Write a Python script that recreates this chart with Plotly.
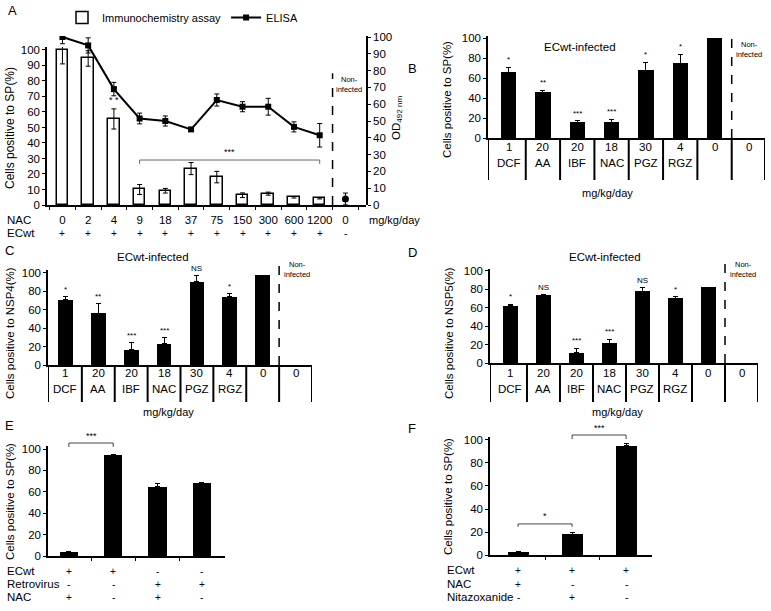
import plotly.graph_objects as go

W, H = 771, 611
FONT = "Liberation Sans, Arial, sans-serif"


def X(px):
    return px / W


def Y(py):
    return 1 - py / H


# ---------------- data ----------------
# Panel A
a_nac = ["0", "2", "4", "9", "18", "37", "75", "150", "300", "600", "1200", "0"]
a_ecwt = ["+", "+", "+", "+", "+", "+", "+", "+", "+", "+", "+", "-"]
a_ihc = [100, 94.5, 55.5, 10, 9.2, 23.5, 18, 6.3, 7.3, 5, 4.3]
a_ihc_err = [9, 5, 6.5, 3.2, 1.5, 3.9, 3.7, 1.5, 1, 0.5, 0.4]
a_elisa = [100, 95, 69, 51.5, 50, 45, 62.5, 58.5, 58.5, 46.5, 41.5]
a_elisa_err = [4, 4.5, 4, 3.2, 3, 1, 3.6, 3, 5, 3, 7]
a_nonin = [3.6]
a_nonin_err = [3.5]

# Panels B, C, D (same treatments)
bcd_dose = ["1", "20", "20", "18", "30", "4", "0", "0"]
bcd_drug = ["DCF", "AA", "IBF", "NAC", "PGZ", "RGZ", "", ""]

b_val = [66, 46, 16, 16, 68, 75, 100, None]
b_err = [5, 1.7, 1.3, 3, 7.5, 8.5, 0, 0]
b_sig = ["*", "**", "***", "***", "*", "*", "", ""]

c_val = [71, 56, 16.5, 23, 90.5, 74, 97.5, None]
c_err = [3, 10.5, 7.5, 6.7, 6.5, 3, 0, 0]
c_sig = ["*", "**", "***", "***", "NS", "*", "", ""]

d_val = [62, 73.5, 11, 21.5, 78, 70.5, 82, None]
d_err = [2, 0.5, 5, 4.5, 4, 1.3, 0, 0]
d_sig = ["*", "NS", "***", "***", "NS", "*", "", ""]

# Panel E
e_val = [3.5, 94, 64.5, 68]
e_err = [0.5, 1, 3, 1]
e_row_names = ["ECwt", "Retrovirus", "NAC"]
e_rows = [["+", "+", "-", "-"], ["-", "-", "+", "+"], ["+", "-", "+", "-"]]

# Panel F
f_val = [2.5, 18, 95]
f_err = [0.5, 2, 2]
f_row_names = ["ECwt", "NAC", "Nitazoxanide"]
f_rows = [["+", "+", "+"], ["+", "-", "-"], ["-", "+", "-"]]

fig = go.Figure()
ann = []
shapes = []


def txt(x, y, t, size=10.5, xref="paper", yref="paper", xanchor="center", yanchor="middle", angle=0, color="black"):
    ann.append(dict(x=x, y=y, text=t, xref=xref, yref=yref, xanchor=xanchor, yanchor=yanchor,
                    showarrow=False, textangle=angle, font=dict(family=FONT, size=size, color=color)))


def line(x0, y0, x1, y1, xref="paper", yref="paper", width=1, dash="solid", color="black"):
    shapes.append(dict(type="line", x0=x0, y0=y0, x1=x1, y1=y1, xref=xref, yref=yref,
                       line=dict(color=color, width=width, dash=dash)))


def yax(domain_px, rng, dtick, **kw):
    d = dict(domain=[Y(domain_px[1]), Y(domain_px[0])], range=rng, dtick=dtick, tick0=0,
             showline=True, linecolor="black", linewidth=1.5, ticks="outside", ticklen=3,
             tickwidth=1, tickcolor="black", showgrid=False, zeroline=False,
             tickfont=dict(family=FONT, size=11.5, color="black"))
    d.update(kw)
    return d


def xax(domain_px, rng, **kw):
    d = dict(domain=[X(domain_px[0]), X(domain_px[1])], range=rng, showline=True, linecolor="black",
             linewidth=2, showgrid=False, zeroline=False, showticklabels=False, ticks="")
    d.update(kw)
    return d


# ---------------- Panel A ----------------
ia = list(range(len(a_ihc)))
fig.add_trace(go.Bar(x=ia, y=a_ihc, width=0.45, name="Immunochemistry assay",
                     marker=dict(color="white", line=dict(color="black", width=1.5)),
                     error_y=dict(type="data", array=a_ihc_err, color="black", thickness=1, width=2.5),
                     xaxis="x", yaxis="y"))
fig.add_trace(go.Scatter(x=ia, y=a_elisa, mode="lines+markers", name="ELISA",
                         line=dict(color="black", width=2),
                         marker=dict(symbol="square", size=6, color="black"),
                         error_y=dict(type="data", array=a_elisa_err, color="black", thickness=1, width=2.5),
                         xaxis="x", yaxis="y2"))
fig.add_trace(go.Scatter(x=[len(a_ihc)], y=a_nonin, mode="markers", showlegend=False,
                         marker=dict(symbol="circle", size=7, color="black"),
                         error_y=dict(type="data", array=a_nonin_err, color="black", thickness=1, width=2.5),
                         xaxis="x", yaxis="y2"))

fig.update_layout(
    xaxis=dict(domain=[X(47), X(366)], range=[-0.6, 11.8], showline=True, linecolor="black", linewidth=1.5,
               showgrid=False, zeroline=False, tickmode="array", tickvals=list(range(len(a_nac))),
               ticktext=a_nac, ticks="", tickfont=dict(family=FONT, size=11.5, color="black"),
               ticklabelstandoff=3, anchor="y",
               minor=dict(tick0=0.5, dtick=1, ticks="outside", ticklen=3, tickcolor="black")),
    yaxis=yax((47, 205), [0, 101.9], 10, anchor="x"),
    yaxis2=yax((36, 205), [0, 100.6], 10, anchor="x", side="right"),
)
txt(X(5), Y(220), "NAC", 11.5, xanchor="left")
txt(X(5), Y(233), "ECwt", 11.5, xanchor="left")
txt(X(367), Y(220), "mg/kg/day", 11, xanchor="left")
for i, s in enumerate(a_ecwt):
    txt(i, Y(233), s, 10, xref="x")
txt(X(10), Y(128), "Cells positive to SP(%)", 12, angle=-90)
txt(X(397), Y(118), "OD<sub>492 nm</sub>", 11.5, angle=-90)
txt(X(12), Y(10), "A", 13)
# significance
txt(2, a_ihc[2] + a_ihc_err[2] + 1, "* *", 9, xref="x", yref="y", yanchor="bottom")
line(3, 29, 10, 29, xref="x", yref="y", color="#666")
line(3, 29, 3, 26.5, xref="x", yref="y", color="#666")
line(10, 29, 10, 26.5, xref="x", yref="y", color="#666")
txt(6.5, 29.5, "***", 9, xref="x", yref="y", yanchor="bottom")
line(10.5, 0, 10.5, 85, xref="x", yref="y", width=1.5, dash="dash")
txt(10.55, 85, "Non-<br>infected", 7.5, xref="x", yref="y", xanchor="left", yanchor="top")


# ---------------- Panels B, C, D ----------------
def treat_panel(n, vals, errs, sigs, xdom, xr, ydom, yr, table_bot, row1, row2, title_xy, unit_xy,
                ylabel, ylab_xy, letter_xy, letter, dash_top_px):
    xa = "x" if n == 1 else f"x{n}"
    ya_idx = n + 1
    ya = f"y{ya_idx}"
    idx = list(range(len(vals)))
    fig.add_trace(go.Bar(x=idx, y=vals, width=0.45, marker=dict(color="black", line=dict(width=0)),
                         error_y=dict(type="data", symmetric=False, array=errs, arrayminus=[0] * len(errs),
                                      color="black", thickness=1, width=2.5),
                         showlegend=False, xaxis=xa, yaxis=ya))
    fig.update_layout({f"xaxis{n}": xax(xdom, xr, anchor=ya),
                       f"yaxis{ya_idx}": yax(ydom, yr, 20, anchor=xa)})
    # table
    xb = [xr[0]] + [i + 0.5 for i in range(len(vals) - 1)] + [xr[1]]
    for xv in xb:
        line(xv, Y(ydom[1]), xv, Y(table_bot), xref=xa, width=2)
    for i in idx:
        txt(i, Y(row1), bcd_dose[i], 11.5, xref=xa)
        if bcd_drug[i]:
            txt(i, Y(row2), bcd_drug[i], 11.5, xref=xa)
        if sigs[i]:
            top = vals[i] + errs[i]
            txt(i, top + 1, sigs[i], 8, xref=xa, yref=ya, yanchor="bottom")
    line(6.5, Y(ydom[1]), 6.5, Y(dash_top_px), xref=xa, width=1.5, dash="dash")
    txt(6.58, Y(dash_top_px + 1), "Non-<br>infected", 7.5, xref=xa, xanchor="left", yanchor="top")
    txt(X(title_xy[0]), Y(title_xy[1]), "ECwt-infected", 11.5)
    txt(X(unit_xy[0]), Y(unit_xy[1]), "mg/kg/day", 11)
    txt(X(ylab_xy[0]), Y(ylab_xy[1]), ylabel, 11.5, angle=-90)
    txt(X(letter_xy[0]), Y(letter_xy[1]), letter, 13)


treat_panel(2, b_val, b_err, b_sig, (488, 765), [-0.6, 7.47], (36, 138), [0, 102], 180, 147, 163,
            (580, 47), (607, 193), "Cells positive to SP(%)", (447, 100), (412, 68), "B", 37)
treat_panel(3, c_val, c_err, c_sig, (48, 312), [-0.53, 7.5], (270, 365), [0, 103], 402, 373, 389,
            (153, 257), (168, 412), "Cells positive to NSP4(%)", (10, 333), (9, 250), "C", 257)
treat_panel(4, d_val, d_err, d_sig, (490, 758), [-0.62, 7.5], (269, 363), [0, 102], 402, 373, 389,
            (605, 257), (617, 412), "Cells positive to NSP5(%)", (449, 333), (412, 252), "D", 257)


# ---------------- Panels E, F ----------------
def ctrl_panel(n, vals, errs, xdom, xr, ydom, yr, width, row_names, rows, row_label_x, row_ys,
               ylab_xy, letter_xy, letter):
    xa = f"x{n}"
    ya = f"y{n + 1}"
    idx = list(range(len(vals)))
    fig.add_trace(go.Bar(x=idx, y=vals, width=width, marker=dict(color="black", line=dict(width=0)),
                         error_y=dict(type="data", symmetric=False, array=errs, arrayminus=[0] * len(errs),
                                      color="black", thickness=1, width=2.5),
                         showlegend=False, xaxis=xa, yaxis=ya))
    fig.update_layout({f"xaxis{n}": xax(xdom, xr, anchor=ya, linewidth=1.5, tickmode="array",
                                        tickvals=[i + 0.5 for i in range(len(vals) - 1)],
                                        ticks="outside", ticklen=3, tickcolor="black"),
                       f"yaxis{n + 1}": yax(ydom, yr, 20, anchor=xa)})
    for name, signs, py in zip(row_names, rows, row_ys):
        txt(X(row_label_x), Y(py), name, 11.5, xanchor="left")
        for i, s in enumerate(signs):
            txt(i, Y(py), s, 10, xref=xa)
    txt(X(ylab_xy[0]), Y(ylab_xy[1]), "Cells positive to SP(%)", 11.5, angle=-90)
    txt(X(letter_xy[0]), Y(letter_xy[1]), letter, 13)
    return xa, ya


xa5, ya5 = ctrl_panel(5, e_val, e_err, (48, 225), [-0.47, 3.52], (446, 556), [0, 102.8], 0.41,
                      e_row_names, e_rows, 5, (571, 584, 597), (10, 502), (9, 425), "E")
line(0, Y(443), 1, Y(443), xref=xa5, color="#444")
line(0, Y(443), 0, Y(447), xref=xa5, color="#444")
line(1, Y(443), 1, Y(447), xref=xa5, color="#444")
txt(0.5, Y(443), "***", 9, xref=xa5, yanchor="bottom")

xa6, ya6 = ctrl_panel(6, f_val, f_err, (490, 652), [-0.52, 2.48], (437, 555), [0, 102.6], 0.39,
                      f_row_names, f_rows, 445, (570, 584, 597), (448, 497), (412, 428), "F")
line(0, 27, 1, 27, xref=xa6, yref=ya6, color="#444")
line(0, 27, 0, 24.5, xref=xa6, yref=ya6, color="#444")
line(1, 27, 1, 24.5, xref=xa6, yref=ya6, color="#444")
txt(0.5, 27.5, "*", 9, xref=xa6, yref=ya6, yanchor="bottom")
line(1, Y(435), 2, Y(435), xref=xa6, color="#444")
line(1, Y(435), 1, Y(439), xref=xa6, color="#444")
line(2, Y(435), 2, Y(439), xref=xa6, color="#444")
txt(1.5, Y(435), "***", 9, xref=xa6, yanchor="bottom")

fig.update_layout(
    width=W, height=H, margin=dict(l=0, r=0, t=0, b=0, autoexpand=False),
    paper_bgcolor="white", plot_bgcolor="rgba(0,0,0,0)",
    font=dict(family=FONT, size=11, color="black"),
    bargap=0, showlegend=True,
    legend=dict(orientation="h", x=X(62), y=Y(3), xanchor="left", yanchor="top",
                font=dict(family=FONT, size=11, color="black"), bgcolor="rgba(0,0,0,0)",
                itemwidth=30, tracegroupgap=0),
    annotations=ann, shapes=shapes,
)

fig.write_html("out.html", config={"displayModeBar": False},
               post_script="document.body.style.margin='0px';document.body.style.overflow='hidden';")
